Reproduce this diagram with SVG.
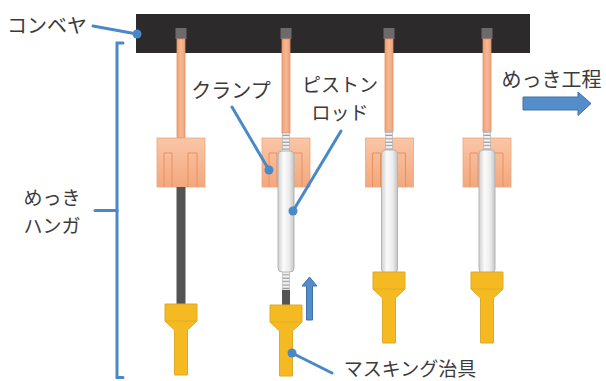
<svg xmlns="http://www.w3.org/2000/svg" xmlns:xlink="http://www.w3.org/1999/xlink" width="606" height="381" viewBox="0 0 606 381">
  <style>
    .lbl { font-family: "Noto Sans CJK JP", "Noto Sans", sans-serif; font-size: 20px; fill: #3a3a3a; }
    .sm { font-size: 19px; }
    .lead { stroke: #4a89c8; stroke-width: 3; fill: none; stroke-linecap: round; }
    .dot { fill: #4a89c8; }
    .rod { fill: url(#rodGrad); stroke: #e39266; stroke-width: 0.8; }
    .clamp { fill: url(#clampGrad); stroke: #f0a57c; stroke-width: 0.8; }
    .prong { fill: none; stroke: #e8915f; stroke-width: 1; }
    .cyl { fill: url(#cylGrad); stroke: #b4b4b4; stroke-width: 1; }
    .yel { fill: #f5b922; stroke: #deaa2a; stroke-width: 1; }
    .barrow { fill: #548dca; stroke: #3f72a6; stroke-width: 1; }
    .pin { fill: #6d6a6b; }
  </style>
  <defs>
    <linearGradient id="rodGrad" x1="0" y1="0" x2="1" y2="0">
      <stop offset="0" stop-color="#f0a179"/>
      <stop offset="0.5" stop-color="#f7b892"/>
      <stop offset="1" stop-color="#f0a179"/>
    </linearGradient>
    <linearGradient id="clampGrad" x1="0" y1="0" x2="0" y2="1">
      <stop offset="0" stop-color="#f9c6a7"/>
      <stop offset="1" stop-color="#f3a87e"/>
    </linearGradient>
    <linearGradient id="cylGrad" x1="0" y1="0" x2="1" y2="0">
      <stop offset="0" stop-color="#d0d0d0"/>
      <stop offset="0.35" stop-color="#fbfbfb"/>
      <stop offset="0.7" stop-color="#ececec"/>
      <stop offset="1" stop-color="#c4c4c4"/>
    </linearGradient>
    <!-- striped spring section of the piston rod -->
    <pattern id="springPat" x="0" y="0" width="8" height="3.4" patternUnits="userSpaceOnUse">
      <rect width="8" height="3.4" fill="#f4f4f4"/>
      <rect y="2.2" width="8" height="1.2" fill="#9a9a9a"/>
    </pattern>
    <!-- clamp block with two prongs, origin at top centre -->
    <g id="clampShape">
      <rect class="clamp" x="-24" y="0" width="48" height="49"/>
      <path class="prong" d="M-17,49 V15 H-9 V49 M7,49 V15 H16 V49"/>
    </g>
    <!-- masking jig, origin at top centre -->
    <g id="jig">
      <path class="yel" d="M-6.5,71 V26 L-16,17 V0 H16 V17 L6.5,26 V71 Z"/>
      <line x1="-16" y1="17" x2="16" y2="17" stroke="#deaa2a" stroke-width="0.8"/>
    </g>
  </defs>

  <!-- conveyor -->
  <g id="conveyor">
    <rect x="136" y="14" width="394" height="39" fill="#2c2a2a"/>
  </g>

  <!-- hanger 1: clamp with plain rod -->
  <g id="hanger1">
    <rect class="pin" x="175.5" y="28" width="11" height="11"/>
    <rect class="rod" x="177" y="39" width="8" height="99"/>
    <use xlink:href="#clampShape" transform="translate(181,138)"/>
    <rect x="176.5" y="187" width="9" height="118" fill="#555454"/>
    <use xlink:href="#jig" transform="translate(181,304)"/>
  </g>

  <!-- hanger 2: piston rod extended -->
  <g id="hanger2">
    <rect class="pin" x="280.5" y="28" width="11" height="11"/>
    <rect class="rod" x="282" y="39" width="8" height="94"/>
    <use xlink:href="#clampShape" transform="translate(286,138)"/>
    <rect x="282.5" y="133" width="7" height="19" fill="url(#springPat)" stroke="#b0b0b0" stroke-width="0.6"/>
    <rect x="282.5" y="271" width="7" height="19" fill="url(#springPat)" stroke="#b0b0b0" stroke-width="0.6"/>
    <rect x="282" y="290" width="8" height="16" fill="#555454"/>
    <rect class="cyl" x="278" y="151" width="16" height="121" rx="4"/>
    <use xlink:href="#jig" transform="translate(286,305)"/>
  </g>

  <!-- hanger 3 -->
  <g id="hanger3">
    <rect class="pin" x="383.5" y="28" width="11" height="11"/>
    <rect class="rod" x="385" y="39" width="8" height="93"/>
    <use xlink:href="#clampShape" transform="translate(389.5,138)"/>
    <rect x="385.5" y="131" width="7" height="20" fill="url(#springPat)" stroke="#b0b0b0" stroke-width="0.6"/>
    <rect class="cyl" x="381.5" y="150" width="16" height="123" rx="4"/>
    <use xlink:href="#jig" transform="translate(389,272)"/>
  </g>

  <!-- hanger 4 -->
  <g id="hanger4">
    <rect class="pin" x="481.5" y="28" width="11" height="11"/>
    <rect class="rod" x="483" y="39" width="8" height="93"/>
    <use xlink:href="#clampShape" transform="translate(487,138)"/>
    <rect x="483.5" y="131" width="7" height="20" fill="url(#springPat)" stroke="#b0b0b0" stroke-width="0.6"/>
    <rect class="cyl" x="479" y="150" width="16" height="123" rx="4"/>
    <use xlink:href="#jig" transform="translate(487,272)"/>
  </g>

  <!-- motion arrows -->
  <g id="arrows">
    <path class="barrow" d="M306.5,320 V286 H302 L309.5,277 L317,286 H312.5 V320 Z"/>
    <path class="barrow" d="M523,97 H578 V92 L591,103.5 L578,115.5 V110 H523 Z"/>
  </g>

  <!-- leader lines and bracket -->
  <g id="connectors">
    <line class="lead" x1="93" y1="26" x2="137" y2="34"/>
    <circle class="dot" cx="137" cy="34" r="4.5"/>
    <path class="lead" d="M123,43 H117 V377.5 H123" stroke-linecap="butt"/>
    <line class="lead" x1="95" y1="210.5" x2="117" y2="210.5" stroke-linecap="butt"/>
    <line class="lead" x1="232" y1="107" x2="269" y2="170"/>
    <circle class="dot" cx="269" cy="170" r="4.5"/>
    <line class="lead" x1="341" y1="131" x2="293" y2="211"/>
    <circle class="dot" cx="293" cy="211" r="4.5"/>
    <line class="lead" x1="292" y1="353" x2="332" y2="373"/>
    <circle class="dot" cx="292" cy="353" r="4.5"/>
  </g>

  <!-- labels -->
  <g id="labels">
    <text class="lbl" x="7" y="33">コンベヤ</text>
    <text class="lbl sm" x="52" y="205" text-anchor="middle">めっき</text>
    <text class="lbl sm" x="52" y="232.5" text-anchor="middle">ハンガ</text>
    <text class="lbl" x="231" y="98" text-anchor="middle">クランプ</text>
    <text class="lbl sm" x="340" y="92" text-anchor="middle">ピストン</text>
    <text class="lbl sm" x="340" y="119.5" text-anchor="middle">ロッド</text>
    <text class="lbl" x="551.5" y="87" text-anchor="middle">めっき工程</text>
    <text class="lbl sm" x="410" y="375.5" text-anchor="middle">マスキング治具</text>
  </g>
</svg>
